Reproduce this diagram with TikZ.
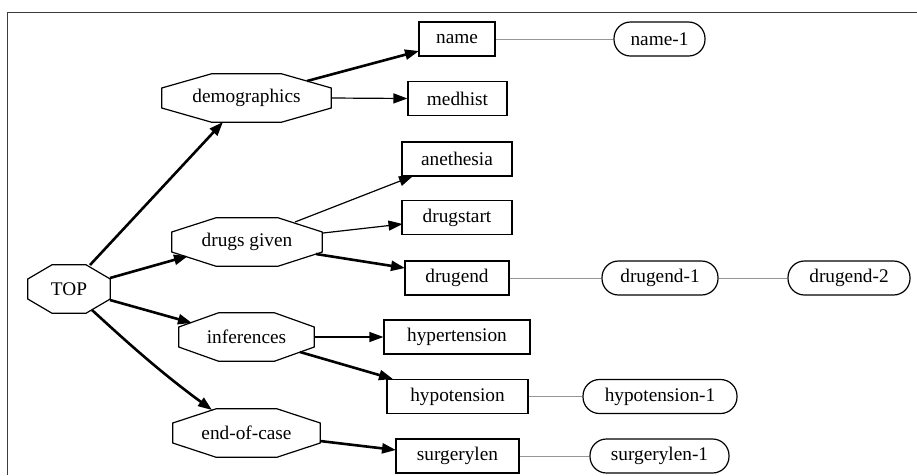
\documentclass[tikz,border=0pt]{standalone}
\usepackage{fontspec}
\setmainfont{Liberation Serif}
\usetikzlibrary{arrows.meta,calc}

\tikzset{
  lbl/.style={font=\fontsize{19.3}{23}\selectfont, inner sep=0pt},
  octo/.style={lbl, shape=rectangle, minimum height=48pt},
  box/.style={lbl, draw, line width=1.2pt, minimum height=34pt},
  pill/.style={lbl, draw, line width=1.2pt, rounded corners=16.5pt, minimum height=34pt},
  octline/.style={line width=1.2pt, line join=miter},
  arr/.style={line width=1.2pt, -{Triangle[length=14pt,width=10pt]}},
  thickarr/.style={line width=2.6pt, -{Triangle[length=14pt,width=10pt]}},
  link/.style={line width=1pt, draw={rgb,255:red,150;green,150;blue,150}},
  frame/.style={line width=1.5pt, draw={rgb,255:red,60;green,60;blue,60}}
}

\begin{document}
\begin{tikzpicture}[x=1pt,y=-1pt]
\useasboundingbox (0,0) rectangle (917,475);

% outer frame
\draw[frame] (7.5,475) -- (7.5,12.5) -- (917,12.5);

% category nodes (octagons drawn around them below)
\node[octo, minimum width=82pt]  (top)  at (69,289)    {TOP};
\node[octo, minimum width=169pt] (demo) at (246.5,98)  {demographics};
\node[octo, minimum width=150pt] (dg)   at (247,242)   {drugs given};
\node[octo, minimum width=135pt] (inf)  at (246.5,337) {inferences};
\node[octo, minimum width=147pt] (eoc)  at (246.5,433) {end-of-case};

\foreach \n in {top,demo,dg,inf,eoc}{
  \draw[octline]
    ($(\n.north west)!0.293!(\n.north east)$) --
    ($(\n.north west)!0.707!(\n.north east)$) --
    ($(\n.north east)!0.293!(\n.south east)$) --
    ($(\n.north east)!0.707!(\n.south east)$) --
    ($(\n.south west)!0.707!(\n.south east)$) --
    ($(\n.south west)!0.293!(\n.south east)$) --
    ($(\n.north west)!0.707!(\n.south west)$) --
    ($(\n.north west)!0.293!(\n.south west)$) -- cycle;
}

% slot nodes
\node[box, minimum width=76pt]  (name)    at (457,39)    {name};
\node[box, minimum width=99pt]  (medhist) at (457.5,98.5) {medhist};
\node[box, minimum width=110pt] (aneth)   at (457,159)   {anethesia};
\node[box, minimum width=110pt] (dstart)  at (457,217.5) {drugstart};
\node[box, minimum width=104pt] (dend)    at (457,278)   {drugend};
\node[box, minimum width=146pt] (hyper)   at (457,337)   {hypertension};
\node[box, minimum width=141pt] (hypo)    at (457.5,396.5) {hypotension};
\node[box, minimum width=123pt] (surg)    at (457.5,456) {surgerylen};

% value nodes
\node[pill, minimum width=91pt]  (name1) at (659.5,39)  {name-1};
\node[pill, minimum width=116pt] (dend1) at (660,278)   {drugend-1};
\node[pill, minimum width=122pt] (dend2) at (849,278)   {drugend-2};
\node[pill, minimum width=154pt] (hypo1) at (660,396.5) {hypotension-1};
\node[pill, minimum width=139pt] (surg1) at (659.5,456) {surgerylen-1};

% edges from TOP
\draw[thickarr] ($(top)+(21,-24)$) -- ($(demo)+(-23.5,24)$);
\draw[thickarr] ($(top)+(41,-11)$) -- ($(dg)+(-59,14)$);
\draw[thickarr] ($(top)+(41,11)$) -- ($(inf)+(-54.5,-14)$);
\draw[thickarr] ($(top)+(23,21)$) .. controls ($(top)+(60,55)$) and ($(eoc)+(-85,-60)$) .. ($(eoc)+(-34.5,-23)$);

% edges from categories to slots
\draw[thickarr] ($(demo)+(60.5,-17)$) -- ($(name)+(-38,12)$);
\draw[arr] (demo.east) -- (medhist.west);
\draw[arr] ($(dg)+(48,-20)$) -- ($(aneth)+(-44,17)$);
\draw[arr] ($(dg)+(76,-9)$) -- ($(dstart)+(-54.5,6.5)$);
\draw[thickarr] ($(dg)+(69,12)$) -- ($(dend)+(-52,-10)$);
\draw[arr] (inf.east) -- (hyper.west);
\draw[thickarr] ($(inf)+(53.5,15)$) -- ($(hypo)+(-64.5,-17.5)$);
\draw[thickarr] ($(eoc)+(73.5,8)$) -- ($(surg)+(-61.5,-6)$);

% links from slots to values
\draw[link] (name.east) -- (name1.west);
\draw[link] (dend.east) -- (dend1.west);
\draw[link] (dend1.east) -- (dend2.west);
\draw[link] (hypo.east) -- (hypo1.west);
\draw[link] (surg.east) -- (surg1.west);
\end{tikzpicture}
\end{document}
